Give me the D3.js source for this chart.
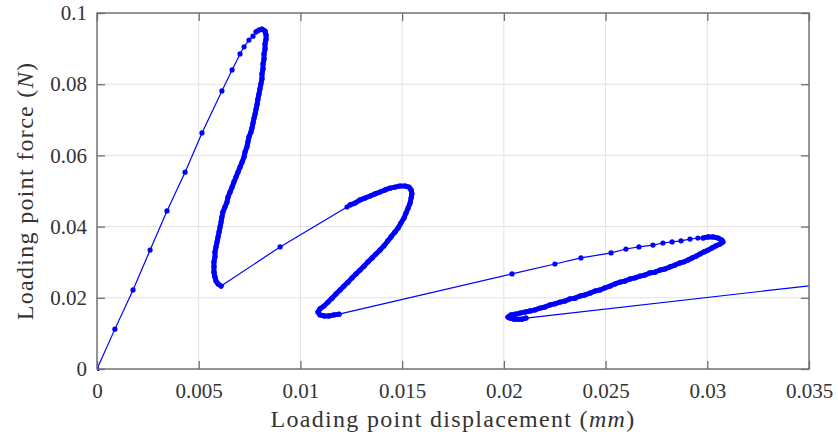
<!DOCTYPE html>
<html>
<head>
<meta charset="utf-8">
<script src="https://cdn.jsdelivr.net/npm/d3@7"></script>
<style>
  body { margin: 0; background: #fff; }
  text { font-family: "Liberation Serif", "DejaVu Serif", serif; }
</style>
</head>
<body>
<div id="chart"></div>
<script>
// displacement (mm), force (N), one segment at a time
var firstLoading = [
  [0, 0], [0.00088, 0.0112], [0.00177, 0.0222], [0.00261, 0.0334], [0.00344, 0.0444],
  [0.00433, 0.0553], [0.00516, 0.0663], [0.00614, 0.0781], [0.00664, 0.0840],
  [0.00703, 0.0885], [0.00723, 0.0905], [0.00747, 0.0924], [0.00767, 0.0935]
];
var firstLoop = [
  [0.00782, 0.0947], [0.00796, 0.0952], [0.00811, 0.0955], [0.00826, 0.0949], [0.00831, 0.0938],
  [0.00831, 0.0927], [0.00826, 0.0913], [0.00826, 0.0899], [0.00821, 0.0885], [0.00821, 0.0871],
  [0.00816, 0.0857], [0.00816, 0.0843], [0.00811, 0.0829], [0.00811, 0.0815], [0.00806, 0.0801],
  [0.00801, 0.0787], [0.00796, 0.0772], [0.00791, 0.0758], [0.00787, 0.0744], [0.00782, 0.0730],
  [0.00777, 0.0716], [0.00772, 0.0705], [0.00767, 0.0691], [0.00762, 0.0677], [0.00757, 0.0666],
  [0.00747, 0.0652], [0.00742, 0.0638], [0.00737, 0.0624], [0.00728, 0.0610], [0.00723, 0.0596],
  [0.00713, 0.0581], [0.00703, 0.0567], [0.00693, 0.0553], [0.00683, 0.0539], [0.00673, 0.0525],
  [0.00664, 0.0511], [0.00654, 0.0497], [0.00644, 0.0483], [0.00639, 0.0469], [0.00629, 0.0455],
  [0.00619, 0.0441], [0.00614, 0.0427], [0.00610, 0.0413], [0.00605, 0.0399], [0.00600, 0.0385],
  [0.00595, 0.0371], [0.00590, 0.0357], [0.00585, 0.0343], [0.00580, 0.0329], [0.00580, 0.0315],
  [0.00575, 0.0301], [0.00575, 0.0287], [0.00575, 0.0272], [0.00580, 0.0258], [0.00585, 0.0247],
  [0.00595, 0.0239], [0.00610, 0.0233]
];
var secondLoading = [
  [0.00900, 0.0343], [0.01229, 0.0455]
];
var secondLoop = [
  [0.01244, 0.0461], [0.01268, 0.0466], [0.01293, 0.0475], [0.01317, 0.0480], [0.01342, 0.0486],
  [0.01367, 0.0492], [0.01391, 0.0497], [0.01416, 0.0503], [0.01440, 0.0508], [0.01465, 0.0511],
  [0.01489, 0.0514], [0.01514, 0.0514], [0.01534, 0.0511], [0.01544, 0.0503], [0.01548, 0.0492],
  [0.01544, 0.0480], [0.01539, 0.0466], [0.01529, 0.0452], [0.01519, 0.0438], [0.01509, 0.0424],
  [0.01494, 0.0410], [0.01480, 0.0396], [0.01465, 0.0385], [0.01445, 0.0371], [0.01430, 0.0360],
  [0.01411, 0.0346], [0.01391, 0.0334], [0.01371, 0.0323], [0.01352, 0.0312], [0.01332, 0.0301],
  [0.01313, 0.0289], [0.01293, 0.0278], [0.01273, 0.0267], [0.01254, 0.0256], [0.01234, 0.0244],
  [0.01214, 0.0233], [0.01195, 0.0222], [0.01175, 0.0211], [0.01155, 0.0199], [0.01136, 0.0188],
  [0.01116, 0.0177], [0.01096, 0.0169], [0.01086, 0.0160], [0.01096, 0.0152], [0.01116, 0.0149],
  [0.01140, 0.0149], [0.01165, 0.0152], [0.01190, 0.0154]
];
var thirdLoading = [
  [0.02040, 0.0267], [0.02251, 0.0295], [0.02379, 0.0312], [0.02527, 0.0326], [0.02600, 0.0337],
  [0.02664, 0.0343], [0.02733, 0.0348], [0.02782, 0.0354], [0.02827, 0.0357], [0.02871, 0.0360],
  [0.02915, 0.0365], [0.02954, 0.0368]
];
var thirdLoop = [
  [0.02979, 0.0368], [0.03004, 0.0371], [0.03028, 0.0371], [0.03053, 0.0368], [0.03072, 0.0362],
  [0.03077, 0.0357], [0.03063, 0.0351], [0.03043, 0.0346], [0.03023, 0.0340], [0.03004, 0.0334],
  [0.02984, 0.0329], [0.02964, 0.0323], [0.02945, 0.0317], [0.02925, 0.0312], [0.02905, 0.0306],
  [0.02886, 0.0301], [0.02866, 0.0298], [0.02841, 0.0292], [0.02817, 0.0287], [0.02792, 0.0281],
  [0.02768, 0.0278], [0.02743, 0.0272], [0.02718, 0.0270], [0.02694, 0.0264], [0.02669, 0.0261],
  [0.02645, 0.0256], [0.02620, 0.0253], [0.02596, 0.0247], [0.02571, 0.0244], [0.02546, 0.0239],
  [0.02522, 0.0233], [0.02497, 0.0228], [0.02473, 0.0222], [0.02448, 0.0219], [0.02423, 0.0213],
  [0.02399, 0.0208], [0.02374, 0.0205], [0.02350, 0.0199], [0.02325, 0.0197], [0.02301, 0.0191],
  [0.02276, 0.0188], [0.02251, 0.0183], [0.02227, 0.0180], [0.02202, 0.0174], [0.02178, 0.0171],
  [0.02153, 0.0166], [0.02129, 0.0163], [0.02104, 0.0160], [0.02079, 0.0157], [0.02055, 0.0154],
  [0.02035, 0.0152], [0.02020, 0.0146], [0.02030, 0.0143], [0.02050, 0.0140], [0.02070, 0.0140],
  [0.02089, 0.0140], [0.02109, 0.0143]
];
var lastLoading = [
  [0.03600, 0.0240]
];

var xTicks = [0, 0.005, 0.01, 0.015, 0.02, 0.025, 0.03, 0.035];
var yTicks = [0, 0.02, 0.04, 0.06, 0.08, 0.1];

var data = firstLoading.concat(firstLoop, secondLoading, secondLoop,
                               thirdLoading, thirdLoop, lastLoading);
var loops = [firstLoop, secondLoop, thirdLoop];

var margin = {top: 13, right: 29, bottom: 66, left: 97},
    width = 838 - margin.left - margin.right,
    height = 435 - margin.top - margin.bottom;

var svg = d3.select("#chart")
    .append("svg")
        .attr("width", width + margin.left + margin.right)
        .attr("height", height + margin.top + margin.bottom)
    .append("g")
        .attr("transform", "translate(" + margin.left + "," + margin.top + ")");

var x = d3.scaleLinear()
        .domain([0, 0.035])
        .range([0, width]);

var y = d3.scaleLinear()
        .domain([0, 0.1])
        .range([height, 0]);

// grid
svg.append("g")
    .selectAll("line")
    .data(xTicks)
    .join("line")
        .attr("x1", d => x(d)).attr("x2", d => x(d))
        .attr("y1", 0).attr("y2", height)
        .attr("stroke", "#e3e3e3").attr("stroke-width", 1);

svg.append("g")
    .selectAll("line")
    .data(yTicks)
    .join("line")
        .attr("y1", d => y(d)).attr("y2", d => y(d))
        .attr("x1", 0).attr("x2", width)
        .attr("stroke", "#e3e3e3").attr("stroke-width", 1);

// curve
svg.append("clipPath").attr("id", "clip")
    .append("rect").attr("width", width).attr("height", height + 4).attr("y", -2);

var plot = svg.append("g").attr("clip-path", "url(#clip)");

var line = d3.line()
    .x(function(d) { return x(d[0]) })
    .y(function(d) { return y(d[1]) });

plot.append("path")
    .datum(data)
    .attr("fill", "none")
    .attr("stroke", "#0000ff")
    .attr("stroke-width", 1.2)
    .attr("d", line);

// the densely sampled parts read as one thick stroke
plot.selectAll(".dense")
    .data(loops)
    .join("path")
        .attr("class", "dense")
        .attr("fill", "none")
        .attr("stroke", "#0000ff")
        .attr("stroke-width", 5)
        .attr("stroke-linejoin", "round")
        .attr("stroke-linecap", "round")
        .attr("d", line);

plot.selectAll("circle")
    .data(data)
    .join("circle")
        .attr("cx", d => x(d[0]))
        .attr("cy", d => y(d[1]))
        .attr("r", 2.6)
        .attr("fill", "#0000ff");

// axes with inward ticks on all four sides
var tickColor = "#6e6e6e";

function styleAxis(g) {
    g.select(".domain").remove();
    g.selectAll(".tick line").attr("stroke", tickColor).attr("stroke-width", 1.3);
    g.selectAll(".tick text")
        .attr("fill", "#333")
        .style("font-size", "21px")
        .style("font-family", "'Liberation Serif', serif");
}

svg.append("g")
    .attr("transform", "translate(0," + height + ")")
    .call(d3.axisBottom(x).tickValues(xTicks).tickFormat(d => String(d))
        .tickSizeInner(-8).tickSizeOuter(0).tickPadding(14))
    .call(styleAxis);

svg.append("g")
    .call(d3.axisTop(x).tickValues(xTicks).tickFormat("")
        .tickSizeInner(-8).tickSizeOuter(0))
    .call(styleAxis);

svg.append("g")
    .call(d3.axisLeft(y).tickValues(yTicks).tickFormat(d => String(d))
        .tickSizeInner(-8).tickSizeOuter(0).tickPadding(10))
    .call(styleAxis);

svg.append("g")
    .attr("transform", "translate(" + width + ",0)")
    .call(d3.axisRight(y).tickValues(yTicks).tickFormat("")
        .tickSizeInner(-8).tickSizeOuter(0))
    .call(styleAxis);

// frame
svg.append("rect")
    .attr("width", width).attr("height", height)
    .attr("fill", "none")
    .attr("stroke", tickColor)
    .attr("stroke-width", 1.4);

// axis labels
var xlab = svg.append("text")
    .attr("x", width / 2)
    .attr("y", height + 58)
    .attr("text-anchor", "middle")
    .attr("fill", "#333")
    .style("font-size", "24px")
    .style("letter-spacing", "1.3px");
xlab.append("tspan").text("Loading point displacement (");
xlab.append("tspan").attr("font-style", "italic").text("mm");
xlab.append("tspan").text(")");

var ylab = svg.append("text")
    .attr("transform", "translate(" + (-64) + "," + (height / 2) + ") rotate(-90)")
    .attr("text-anchor", "middle")
    .attr("fill", "#333")
    .style("font-size", "24px")
    .style("letter-spacing", "1.3px");
ylab.append("tspan").text("Loading point force (");
ylab.append("tspan").attr("font-style", "italic").text("N");
ylab.append("tspan").text(")");
</script>
</body>
</html>
